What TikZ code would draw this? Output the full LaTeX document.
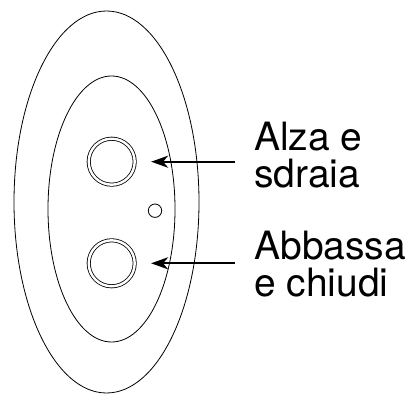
\documentclass[tikz,border=0pt]{standalone}
\usepackage{fontspec}
\setmainfont{TeX Gyre Heros}
\usetikzlibrary{arrows.meta,shapes.geometric}
\tikzset{%
  shell/.style   = {ellipse, draw, line width=0.8pt, inner sep=0pt},%
  button/.style  = {circle, draw, double, double distance=2.4pt,%
                    line width=0.8pt, inner sep=0pt, minimum size=46pt},%
  led/.style     = {circle, draw, line width=0.8pt, inner sep=0pt,%
                    minimum size=13.4pt},%
  caption/.style = {align=left, inner sep=0pt, anchor=west,%
                    font=\fontsize{39}{37}\selectfont},%
  pointer/.style = {line width=2.3pt, -{Stealth[length=17pt,width=12pt,inset=5pt]}}%
}
\begin{document}
\begin{tikzpicture}[x=1pt, y=-1pt]%
	\useasboundingbox (0,0) rectangle (408,394);
	% body of the remote
	\node [shell, minimum width=185pt, minimum height=382pt] (outer) at (106.5,202) {};%
	\node [shell, minimum width=127pt, minimum height=266pt] (inner) at (111.5,209) {};%
	% buttons
	\node [button] (up)   at (111.7,161.7) {};%
	\node [button] (down) at (111.7,263.3) {};%
	\node [led]    (lamp) at (155,210.7) {};%
	% labels
	\node [caption] (uplabel)   at (254,155) {Alza e\\sdraia};%
	\node [caption] (downlabel) at (254,264) {Abbassa\\e chiudi};%
	\draw [pointer] ([xshift=-19pt]uplabel.west |- up.east) -- ([xshift=16pt]up.east);%
	\draw [pointer] ([xshift=-19pt]downlabel.west |- down.east) -- ([xshift=16pt]down.east);%
\end{tikzpicture}
\end{document}
